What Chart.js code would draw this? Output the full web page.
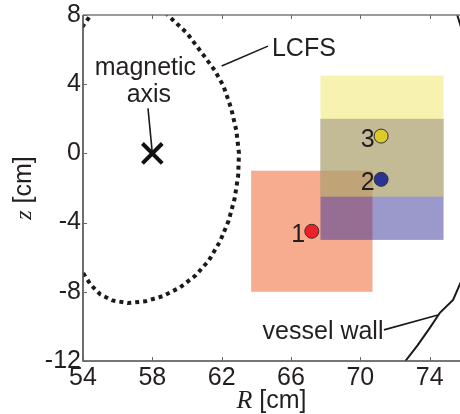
<!DOCTYPE html>
<html>
<head>
<meta charset="utf-8">
<script src="https://cdn.jsdelivr.net/npm/chart.js@4/dist/chart.umd.min.js"></script>
<style>
  html, body { margin: 0; padding: 0; background: #fff; }
  #wrap { width: 460px; height: 414px; }
</style>
</head>
<body>
<div id="wrap"><canvas id="myChart" width="460" height="414"></canvas></div>
<script>
// axis ticks
const xTicks = [54, 58, 62, 66, 70, 74];
const yTicks = [-12, -8, -4, 0, 4, 8];

// last closed flux surface
const lcfsR = [58.75, 59.2, 60.0, 60.9, 61.6, 62.1, 62.55, 62.85, 63.0, 62.95, 62.75, 62.4, 61.9, 61.25, 60.5, 59.6, 58.6, 57.6, 56.6, 55.7, 55.0, 54.45, 54.0, 53.8];
const lcfsZ = [8.15, 7.7, 6.95, 5.75, 4.8, 3.9, 2.6, 1.3, 0.0, -1.3, -2.6, -3.9, -5.1, -6.2, -7.05, -7.75, -8.25, -8.55, -8.65, -8.5, -8.15, -7.6, -6.9, -6.5];
const lcfsTopR = [53.95, 54.2, 54.6];
const lcfsTopZ = [7.3, 7.65, 8.2];

// vessel wall
const wallR = [72.6, 73.3, 74.0, 74.6, 75.35, 75.9];
const wallZ = [-12.0, -11.1, -10.1, -9.2, -8.47, -7.2];
const wallTopR = [75.5, 75.9];
const wallTopZ = [8.3, 7.0];

// magnetic axis
const axisR = [58.0];
const axisZ = [0.0];

// chords / view points
const chordLabels = ['1', '2', '3'];
const chordR = [67.2, 71.2, 71.2];
const chordZ = [-4.5, -1.5, 1.0];

// viewing boxes (drawn in this order)
const boxRmin = [63.7, 67.7, 67.7];
const boxRmax = [70.7, 74.8, 74.8];
const boxZmin = [-8.0, -5.0, -2.5];
const boxZmax = [-1.0, 2.0, 4.5];

// leader lines
const leaderR = [[57.75, 58.0], [62.0, 64.67], [71.36, 74.48]];
const leaderZ = [[2.6, 0.0], [5.05, 6.2], [-10.2, -9.34]];

// text notes
const noteText = ['magnetic', 'axis', 'LCFS', 'vessel wall'];
const noteR = [57.6, 57.8, 64.9, 64.36];
const noteZ = [4.53, 3.0, 5.63, -10.75];
const noteAlign = ['center', 'center', 'left', 'left'];

const boxColors = ['rgba(241, 89, 31, 0.5)', 'rgba(55, 49, 151, 0.5)', 'rgba(240, 228, 90, 0.47)'];
const chordColors = ['#ec2228', '#2a3593', '#dccb26'];
const ink = '#231f20';
const SANS = '"Liberation Sans", Arial, sans-serif';

let pts = (rs, zs) => rs.map((r, i) => ({x: r, y: zs[i]}));

const boxPlugin = {
    id: 'boxes',
    beforeDatasetsDraw(chart) {
        const ctx = chart.ctx, xs = chart.scales.x, ys = chart.scales.y;
        const a = chart.chartArea;
        ctx.save();
        ctx.beginPath();
        ctx.rect(a.left, a.top, a.right - a.left, a.bottom - a.top);
        ctx.clip();
        for (let i = 0; i < boxRmin.length; i++) {
            const x0 = xs.getPixelForValue(boxRmin[i]);
            const x1 = xs.getPixelForValue(boxRmax[i]);
            const y0 = ys.getPixelForValue(boxZmax[i]);
            const y1 = ys.getPixelForValue(boxZmin[i]);
            ctx.fillStyle = boxColors[i];
            ctx.fillRect(x0, y0, x1 - x0, y1 - y0);
        }
        ctx.restore();
    }
};

const framePlugin = {
    id: 'frame',
    afterDatasetsDraw(chart) {
        const ctx = chart.ctx, xs = chart.scales.x, ys = chart.scales.y;
        const a = chart.chartArea;
        ctx.save();
        // spines
        ctx.lineCap = 'butt';
        ctx.strokeStyle = '#7a7a7a';
        ctx.lineWidth = 1.4;
        ctx.beginPath();
        ctx.moveTo(a.left, a.top);
        ctx.lineTo(a.right, a.top);
        ctx.stroke();
        ctx.strokeStyle = '#4a4a4a';
        ctx.lineWidth = 1.6;
        ctx.beginPath();
        ctx.moveTo(a.left, a.top);
        ctx.lineTo(a.left, a.bottom);
        ctx.lineTo(a.right, a.bottom);
        ctx.stroke();
        // inward ticks
        ctx.strokeStyle = '#666';
        ctx.lineWidth = 1;
        xTicks.forEach(v => {
            const px = Math.round(xs.getPixelForValue(v)) + 0.5;
            ctx.beginPath();
            ctx.moveTo(px, a.bottom); ctx.lineTo(px, a.bottom - 4);
            ctx.moveTo(px, a.top); ctx.lineTo(px, a.top + 4);
            ctx.stroke();
        });
        yTicks.forEach(v => {
            const py = Math.round(ys.getPixelForValue(v)) + 0.5;
            ctx.beginPath();
            ctx.moveTo(a.left, py); ctx.lineTo(a.left + 4, py);
            ctx.stroke();
        });

        // chord labels
        ctx.fillStyle = ink;
        ctx.font = '25px ' + SANS;
        ctx.textAlign = 'left';
        ctx.textBaseline = 'alphabetic';
        chordLabels.forEach((t, i) => {
            ctx.fillText(t, xs.getPixelForValue(chordR[i]) - 20.5, ys.getPixelForValue(chordZ[i]) + 11);
        });
        // notes
        noteText.forEach((t, i) => {
            ctx.textAlign = noteAlign[i];
            ctx.fillText(t, xs.getPixelForValue(noteR[i]), ys.getPixelForValue(noteZ[i]));
        });

        // axis titles
        const cx = (a.left + a.right) / 2;
        ctx.textAlign = 'left';
        ctx.font = 'italic 26px "Liberation Serif", serif';
        const wR = ctx.measureText('R').width;
        ctx.font = '25px ' + SANS;
        const wU = ctx.measureText(' [cm]').width;
        let x0 = cx - (wR + wU) / 2;
        ctx.font = 'italic 26px "Liberation Serif", serif';
        ctx.fillText('R', x0, 408);
        ctx.font = '25px ' + SANS;
        ctx.fillText(' [cm]', x0 + wR, 408);

        const cy = (a.top + a.bottom) / 2;
        ctx.translate(31, cy);
        ctx.rotate(-Math.PI / 2);
        ctx.font = 'italic 24px "Liberation Serif", serif';
        const wz = ctx.measureText('z').width;
        ctx.font = '25px ' + SANS;
        const wU2 = ctx.measureText(' [cm]').width;
        x0 = -(wz + wU2) / 2;
        ctx.font = 'italic 24px "Liberation Serif", serif';
        ctx.fillText('z', x0, 0);
        ctx.font = '25px ' + SANS;
        ctx.fillText(' [cm]', x0 + wz, 0);
        ctx.restore();
    }
};

let lineSet = (rs, zs, extra) => Object.assign({
    data: pts(rs, zs),
    showLine: true,
    pointRadius: 0,
    borderColor: '#1a1a1a',
    borderWidth: 1.5,
    fill: false,
    order: 5
}, extra);

const datasets = [
    lineSet(lcfsR, lcfsZ, {borderWidth: 4, borderDash: [4, 4], borderCapStyle: 'butt', order: 6}),
    lineSet(lcfsTopR, lcfsTopZ, {borderWidth: 4, borderDash: [4, 4], borderCapStyle: 'butt', order: 6}),
    lineSet(wallR, wallZ, {borderWidth: 2, order: 6}),
    lineSet(wallTopR, wallTopZ, {borderWidth: 2, order: 6}),
    ...leaderR.map((r, i) => lineSet(r, leaderZ[i], {borderWidth: 1.6, order: 4})),
    {
        data: pts(axisR, axisZ),
        pointStyle: 'crossRot',
        pointRadius: 14,
        borderWidth: 4,
        borderColor: '#111',
        order: 2
    },
    {
        data: pts(chordR, chordZ),
        pointStyle: 'circle',
        pointRadius: 7,
        borderWidth: 1,
        borderColor: '#333',
        backgroundColor: chordColors,
        order: 1
    }
];

const tickFont = {family: SANS, size: 25};

const config = {
    type: 'scatter',
    data: {datasets: datasets},
    options: {
        responsive: false,
        animation: false,
        layout: {autoPadding: false, padding: {top: 15, right: 0, left: 0, bottom: 0}},
        plugins: {legend: {display: false}, tooltip: {enabled: false}},
        elements: {point: {hoverRadius: 7}},
        scales: {
            x: {
                type: 'linear',
                min: 54,
                max: 75.75,
                grid: {display: false, drawTicks: false},
                border: {display: false},
                afterBuildTicks: s => { s.ticks = xTicks.map(v => ({value: v})); },
                afterFit: s => { s.height = 53; s.paddingLeft = 0; s.paddingRight = 0; },
                ticks: {font: tickFont, color: ink, padding: 2, maxRotation: 0, autoSkip: false}
            },
            y: {
                type: 'linear',
                min: -12,
                max: 8,
                grid: {display: false, drawTicks: false},
                border: {display: false},
                afterBuildTicks: s => { s.ticks = yTicks.map(v => ({value: v})); },
                afterFit: s => { s.width = 83; s.paddingTop = 0; s.paddingBottom = 0; },
                ticks: {font: tickFont, color: ink, padding: 2, autoSkip: false}
            }
        }
    },
    plugins: [boxPlugin, framePlugin]
};

const myChart = new Chart(document.getElementById('myChart'), config);
</script>
</body>
</html>
